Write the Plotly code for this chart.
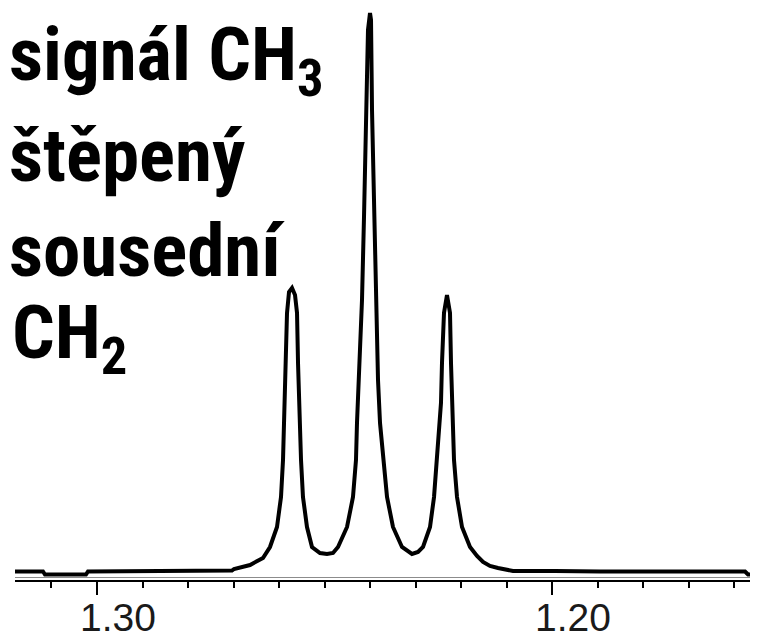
import plotly.graph_objects as go

# Chemical shift (ppm) and signal intensity (arbitrary units)
shift_ppm = [
    1.31802, 1.31187, 1.31143, 1.30242, 1.30198, 1.28835, 1.27626, 1.27560, 1.27033, 1.26989,
    1.26637, 1.26352, 1.26198, 1.26044, 1.25956, 1.25912, 1.25890, 1.25868, 1.25846, 1.25824,
    1.25780, 1.25714, 1.25648, 1.25604, 1.25582, 1.25560, 1.25538, 1.25516, 1.25473, 1.25385,
    1.25275, 1.25099, 1.24945, 1.24813, 1.24703, 1.24505, 1.24374, 1.24308, 1.24286, 1.24242,
    1.24220, 1.24176, 1.24132, 1.24088, 1.24044, 1.24000, 1.23978, 1.23956, 1.23912, 1.23868,
    1.23824, 1.23780, 1.23714, 1.23626, 1.23495, 1.23297, 1.23077, 1.22945, 1.22835, 1.22681,
    1.22593, 1.22527, 1.22505, 1.22440, 1.22418, 1.22374, 1.22308, 1.22242, 1.22220, 1.22198,
    1.22176, 1.22154, 1.22088, 1.21978, 1.21802, 1.21648, 1.21516, 1.21363, 1.21187, 1.20923,
    1.20857, 1.19934, 1.18945, 1.15758, 1.15692, 1.15473,
]
intensity = [
    5.5, 5.5, 2.5, 2.5, 5.5, 5.5, 5.5, 6.5, 6.5, 8,
    12, 19, 30, 50, 80, 117, 154, 174, 214, 264,
    285, 289, 282, 264, 214, 174, 154, 117, 80, 50,
    30, 24, 23, 24, 30, 50, 80, 117, 154, 197,
    240, 277, 360, 467, 547, 564, 557, 467, 360, 264,
    197, 154, 117, 80, 50, 30, 23, 25, 30, 50,
    80, 117, 137, 174, 214, 264, 282, 264, 214, 174,
    137, 117, 80, 50, 30, 21, 15, 11, 9, 7,
    6, 6, 5.5, 5.5, 2.5, 2.5,
]

label_lines = ["signál CH<sub>3</sub>", "štěpený", "sousední", "CH<sub>2</sub>"]
label_y = [518, 422, 327, 240]
label_x = [-7 / 743, -7 / 743, -7 / 743, -4 / 743]

x_range = [1.31802, 1.15473]
y_range = [-3, 569]

fig = go.Figure()
fig.add_trace(go.Scatter(
    x=shift_ppm, y=intensity, mode="lines",
    line=dict(color="black", width=4),
    hoverinfo="skip", showlegend=False,
))

title_font = dict(family="Roboto Condensed, Open Sans Condensed, Liberation Sans", size=75,
                  color="black")
for txt, xx, yy in zip(label_lines, label_x, label_y):
    fig.add_annotation(
        text="<b>" + txt + "</b>", xref="paper", yref="y",
        x=xx, y=yy, xanchor="left", yanchor="middle",
        showarrow=False, font=title_font, align="left", borderpad=0,
    )

fig.update_layout(
    width=750, height=633,
    margin=dict(l=7, r=0, t=0, b=61, autoexpand=False),
    paper_bgcolor="white", plot_bgcolor="white",
    xaxis=dict(
        range=x_range, showgrid=False, zeroline=False, automargin=False,
        showline=True, linecolor="black", linewidth=1.5,
        ticks="outside", ticklen=13, tickwidth=1.5, tickcolor="black",
        tick0=1.2, dtick=0.1, tickformat=".2f",
        tickfont=dict(family="Liberation Sans, Arial", size=39, color="#1a1a1a"),
        ticklabelshift=-21, ticklabelstandoff=-11,
        minor=dict(ticks="outside", tick0=1.2, dtick=0.01, ticklen=6,
                   tickwidth=1.5, tickcolor="black"),
    ),
    yaxis=dict(
        range=y_range, showgrid=False, showticklabels=False, ticks="",
        zeroline=True, zerolinecolor="#8c8c8c", zerolinewidth=1,
        showline=False, automargin=False,
    ),
)

fig.write_html("out.html")
